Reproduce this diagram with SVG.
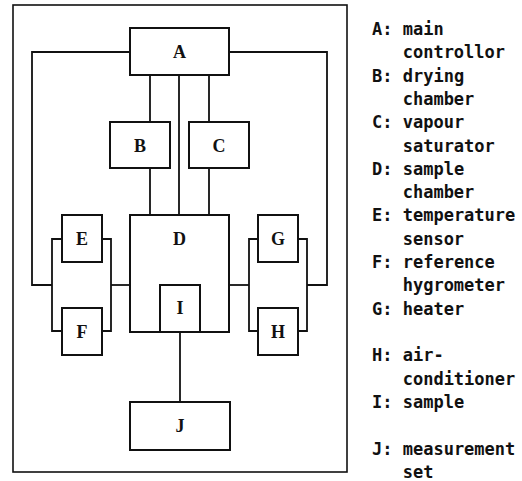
<svg xmlns="http://www.w3.org/2000/svg" width="522" height="481" viewBox="0 0 522 481">
<style>
.box{fill:#fff;stroke:#111;stroke-width:2}
.frame{fill:none;stroke:#111;stroke-width:1.6}
.wire{fill:none;stroke:#111;stroke-width:1.8}
.lbl{font-family:"Liberation Serif",serif;font-weight:bold;font-size:18px;fill:#111;text-anchor:middle}
.leg{font-family:"DejaVu Sans Mono",monospace;font-weight:bold;font-size:17px;fill:#111;white-space:pre}
</style>
<rect width="522" height="481" fill="#fff"/>
<rect class="frame" x="13" y="5" width="334" height="467"/>
<g id="connectors">
<path class="wire" d="M130,52 H32 V285 H52"/>
<path class="wire" d="M229,52 H327 V285 H307"/>
<path class="wire" d="M62,239 H52 V331 H62"/>
<path class="wire" d="M102,239 H111 V331 H102"/>
<path class="wire" d="M111,285 H130"/>
<path class="wire" d="M258,239 H249 V331 H258"/>
<path class="wire" d="M298,239 H307 V331 H298"/>
<path class="wire" d="M229,285 H249"/>
<path class="wire" d="M150,75 V122 M150,168 V215"/>
<path class="wire" d="M179,75 V215"/>
<path class="wire" d="M209,75 V122 M209,168 V215"/>
<path class="wire" d="M180,332 V402"/>
</g>
<g id="A"><rect class="box" x="130" y="28" width="99" height="47"/><text class="lbl" x="179.5" y="58">A</text></g>
<g id="B"><rect class="box" x="110" y="122" width="60" height="46"/><text class="lbl" x="140" y="151.5">B</text></g>
<g id="C"><rect class="box" x="189" y="122" width="60" height="46"/><text class="lbl" x="219" y="151.5">C</text></g>
<g id="D"><rect class="box" x="130" y="215" width="99" height="117"/><text class="lbl" x="179.5" y="245">D</text></g>
<g id="I"><rect class="box" x="160" y="285" width="40" height="47"/><text class="lbl" x="180" y="314">I</text></g>
<g id="E"><rect class="box" x="62" y="215" width="40" height="47"/><text class="lbl" x="82" y="245">E</text></g>
<g id="F"><rect class="box" x="62" y="308" width="40" height="47"/><text class="lbl" x="82" y="338">F</text></g>
<g id="G"><rect class="box" x="258" y="215" width="40" height="47"/><text class="lbl" x="278" y="245">G</text></g>
<g id="H"><rect class="box" x="258" y="308" width="40" height="47"/><text class="lbl" x="278" y="338">H</text></g>
<g id="J"><rect class="box" x="130" y="402" width="100" height="48"/><text class="lbl" x="180" y="432">J</text></g>
<g id="legend">
<text class="leg" x="372" y="35">A: main</text>
<text class="leg" x="402.7" y="58">controllor</text>
<text class="leg" x="372" y="82">B: drying</text>
<text class="leg" x="402.7" y="105">chamber</text>
<text class="leg" x="372" y="128">C: vapour</text>
<text class="leg" x="402.7" y="152">saturator</text>
<text class="leg" x="372" y="175">D: sample</text>
<text class="leg" x="402.7" y="198">chamber</text>
<text class="leg" x="372" y="221">E: temperature</text>
<text class="leg" x="402.7" y="245">sensor</text>
<text class="leg" x="372" y="268">F: reference</text>
<text class="leg" x="402.7" y="291">hygrometer</text>
<text class="leg" x="372" y="315">G: heater</text>
<text class="leg" x="372" y="361">H: air-</text>
<text class="leg" x="402.7" y="385">conditioner</text>
<text class="leg" x="372" y="408">I: sample</text>
<text class="leg" x="372" y="455">J: measurement</text>
<text class="leg" x="402.7" y="478">set</text>
</g>
</svg>
